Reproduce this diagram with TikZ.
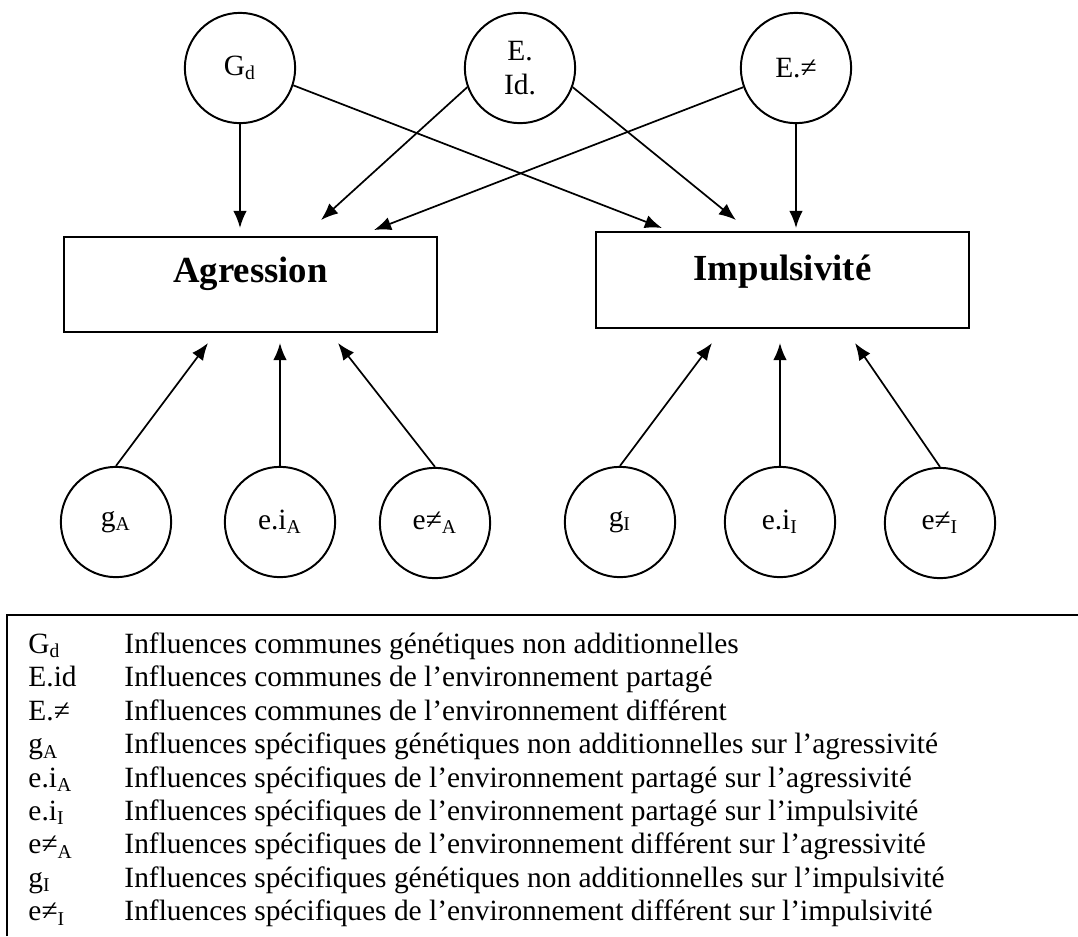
\documentclass[tikz,border=0pt]{standalone}
\usepackage{fontspec}
\setmainfont{Liberation Serif}
\usetikzlibrary{arrows.meta}
\begin{document}
\begin{tikzpicture}[x=0.408pt,y=-0.408pt]
  \tikzstyle{var}=[circle,draw,line width=0.8pt,minimum size=45pt,inner sep=0pt,align=center,font=\fontsize{12}{14}\selectfont]
  \tikzstyle{trait}=[rectangle,draw,line width=0.8pt,minimum width=152pt,minimum height=39pt,text height=10pt,text depth=12pt,font=\fontsize{15}{18}\selectfont\bfseries]
  \tikzstyle{arr}=[-{Latex[length=7pt,width=5.5pt]},line width=0.7pt]
  \tikzstyle{key}=[anchor=base west,inner sep=0pt,font=\fontsize{12}{14}\selectfont]
  \useasboundingbox (0,0) rectangle (1078,936);
  \node[var] (Gd) at (240,68) {G\textsubscript{d}};
  \node[var] (Eid) at (520,68) {E.\\Id.};
  \node[var] (Eneq) at (796,68) {E.≠};
  \node[trait] (agr) at (250.5,284.5) {Agression};
  \node[trait,text depth=10pt] (imp) at (782.5,280) {Impulsivité};
  \node[var] (gA) at (116,522) {g\textsubscript{A}};
  \node[var] (eiA) at (280,522) {e.i\textsubscript{A}};
  \node[var] (eneqA) at (435,523) {e≠\textsubscript{A}};
  \node[var] (gI) at (620,522) {g\textsubscript{I}};
  \node[var] (eiI) at (780,522) {e.i\textsubscript{I}};
  \node[var] (eneqI) at (940,523) {e≠\textsubscript{I}};
  \coordinate (t1) at (240,228);
  \coordinate (t2) at (321,220);
  \coordinate (t3) at (374,230);
  \coordinate (t4) at (662,228);
  \coordinate (t5) at (736,220);
  \coordinate (t6) at (796,228);
  \coordinate (b1) at (208,343);
  \coordinate (b2) at (280,343);
  \coordinate (b3) at (338,343);
  \coordinate (b4) at (712,343);
  \coordinate (b5) at (780,343);
  \coordinate (b6) at (855,343);
  \draw[arr] (Gd.south) -- (t1);
  \draw[arr] (Eid.200) -- (t2);
  \draw[arr] (Eneq.200) -- (t3);
  \draw[arr] (Gd.-18) -- (t4);
  \draw[arr] (Eid.-20) -- (t5);
  \draw[arr] (Eneq.south) -- (t6);
  \draw[arr] (gA.north) -- (b1);
  \draw[arr] (eiA.north) -- (b2);
  \draw[arr] (eneqA.north) -- (b3);
  \draw[arr] (gI.north) -- (b4);
  \draw[arr] (eiI.north) -- (b5);
  \draw[arr] (eneqI.north) -- (b6);
  \draw[line width=0.8pt] (7,936) -- (7,615) -- (1078,615);
  \foreach \lab/\txt [count=\i from 0] in {
      G\textsubscript{d}/Influences communes génétiques non additionnelles,
      E.id/Influences communes de l’environnement partagé,
      E.≠/Influences communes de l’environnement différent,
      g\textsubscript{A}/Influences spécifiques génétiques non additionnelles sur l’agressivité,
      e.i\textsubscript{A}/Influences spécifiques de l’environnement partagé sur l’agressivité,
      e.i\textsubscript{I}/Influences spécifiques de l’environnement partagé sur l’impulsivité,
      e≠\textsubscript{A}/Influences spécifiques de l’environnement différent sur l’agressivité,
      g\textsubscript{I}/Influences spécifiques génétiques non additionnelles sur l’impulsivité,
      e≠\textsubscript{I}/Influences spécifiques de l’environnement différent sur l’impulsivité}
  {
    \node[key] (lab\i) at (28,653.5+33.4*\i) {\lab};
    \node[key] (key\i) at (124,653.5+33.4*\i) {\txt};
  }
\end{tikzpicture}
\end{document}
